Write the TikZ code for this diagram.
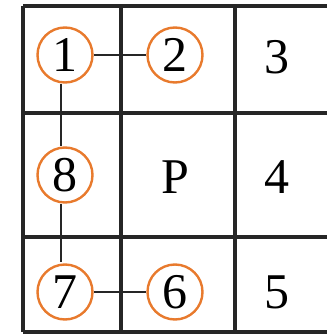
\documentclass[tikz,border=0pt]{standalone}
\usepackage{fontspec}
\setmainfont{Liberation Serif}
\definecolor{circ}{RGB}{232,122,45}
\begin{document}
\begin{tikzpicture}[x=1pt,y=-1pt,
  grid/.style={line width=3.6pt,black!85},
  num/.style={circle,draw=circ,line width=2.4pt,minimum size=55pt,inner sep=0pt,fill=white,font=\fontsize{50}{54}\selectfont},
  lab/.style={font=\fontsize{50}{54}\selectfont},
  conn/.style={line width=2.6pt,black!85}]
\useasboundingbox (0,0) rectangle (326,334);
% grid
\draw[grid] (23,6) -- (330,6);
\draw[grid] (23,113) -- (330,113);
\draw[grid] (23,237) -- (330,237);
\draw[grid] (23,332) -- (330,332);
\draw[grid] (23,6) -- (23,332);
\draw[grid] (121,6) -- (121,332);
\draw[grid] (235,6) -- (235,332);
% connectors
\coordinate (v1) at (61,84);
\coordinate (v8a) at (61,146);
\coordinate (v8b) at (61,204);
\coordinate (v7) at (61,262);
\draw[conn] (v1) -- (v8a);
\draw[conn] (v8b) -- (v7);
\node[num] (n1) at (65,55) {1};
\node[num] (n2) at (175,55) {2};
\node[num] (n8) at (65,175) {8};
\node[num] (n7) at (65,292) {7};
\node[num] (n6) at (175,292) {6};
\draw[conn] (n1.east) -- (n2.west);
\draw[conn] (n7.east) -- (n6.west);
\node[lab] (t3) at (277,57) {3};
\node[lab] (tp) at (175,177) {P};
\node[lab] (t4) at (277,177) {4};
\node[lab] (t5) at (277,292) {5};
\end{tikzpicture}
\end{document}
